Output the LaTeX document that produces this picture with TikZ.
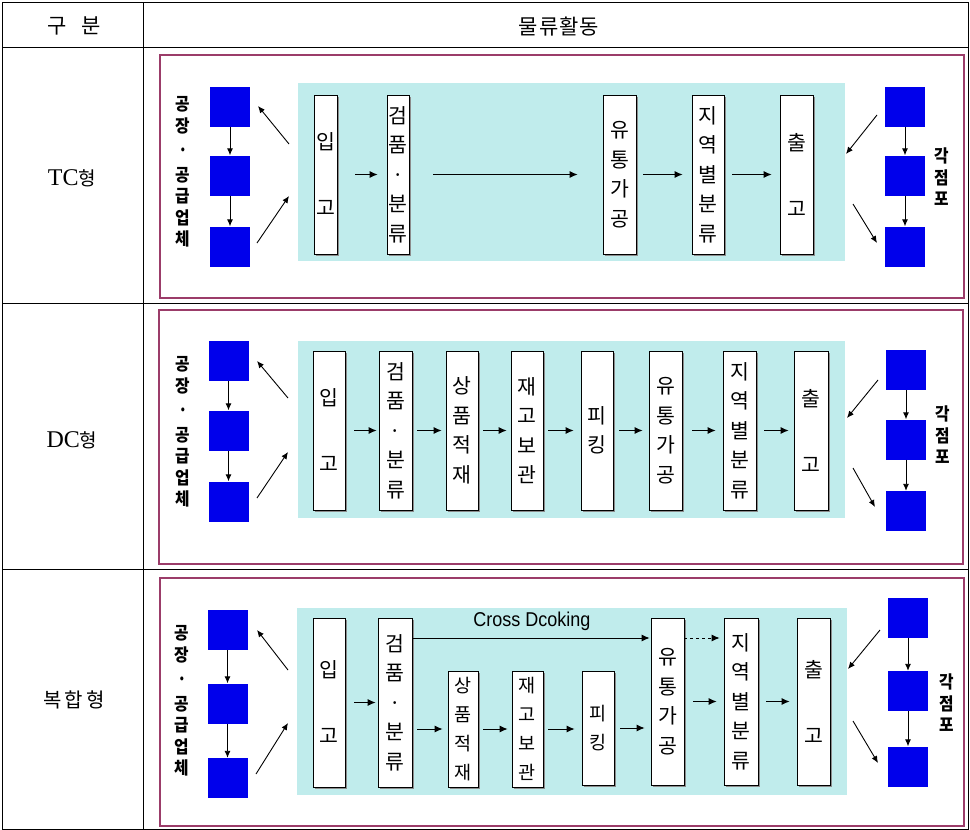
\documentclass[tikz,border=0pt]{standalone}
\usepackage{fontspec}
\setmainfont{Liberation Serif}
\newfontfamily\kr{Noto Sans CJK KR}
\newfontfamily\krb{Noto Sans CJK KR}[FakeStretch=0.9]
\newfontfamily\lsans{Liberation Sans}[FakeStretch=0.9]
\usetikzlibrary{arrows.meta,shadows}
\definecolor{sqblue}{RGB}{0,0,235}
\definecolor{cyanbg}{RGB}{192,236,236}
\definecolor{framecol}{RGB}{155,60,105}
\begin{document}
\begin{tikzpicture}[x=1pt,y=-1pt,
 pbox/.style={draw=black, line width=0.8pt, fill=white, inner sep=0pt, align=center,
   font=\kr\fontsize{20.5}{29.5}\selectfont,
   drop shadow={shadow xshift=1.5pt, shadow yshift=-1.5pt, fill=black!45, opacity=1}},
 sbox/.style={pbox, font=\kr\fontsize{18.5}{29}\selectfont},
 bsq/.style={fill=sqblue, minimum width=40pt, minimum height=40pt, inner sep=0pt},
 flow/.style={-{Latex[length=8pt,width=7pt]}, line width=0.9pt},
 thinarr/.style={-{Latex[length=7pt,width=6pt]}, line width=0.9pt},
 vlabel/.style={font=\krb\bfseries\fontsize{17.5}{21.5}\selectfont, align=center, inner sep=0pt},
 frame/.style={draw=framecol, line width=2pt},
 cyanarea/.style={fill=cyanbg, draw=none},
 tline/.style={draw=black, line width=0.8pt},
 hdr/.style={font=\kr\fontsize{21}{21}\selectfont},
 rowlab/.style={font=\fontsize{24}{24}\selectfont}
]
\useasboundingbox (0,0) rectangle (970,830);
\fill[white] (0,0) rectangle (970,830);
% table
\draw[tline] (2,2) rectangle (968,829);
\draw[tline] (2,47) -- (968,47);
\draw[tline] (2,303) -- (968,303);
\draw[tline] (2,569) -- (968,569);
\draw[tline] (143,2) -- (143,829);
\node[hdr] (h1) at (74,26) {구\hspace{0.7em}분};
\node[hdr] (h2) at (559,27) {물\hspace{1pt}류\hspace{1pt}활\hspace{1pt}동};
\node[rowlab] (r1) at (72,178) {TC{\kr\fontsize{19}{19}\selectfont 형}};
\node[rowlab] (r2) at (72,440) {DC{\kr\fontsize{19}{19}\selectfont 형}};
\node[font=\kr\fontsize{20}{20}\selectfont] (r3) at (74,700) {복\hspace{3pt}합\hspace{3pt}형};

% frames and cyan areas
\draw[frame] (160,55) rectangle (964,298);
\draw[frame] (159,310) rectangle (963,564);
\draw[frame] (160,578) rectangle (964,826);
\fill[cyanarea] (298,83) rectangle (845,261);
\fill[cyanarea] (298,341) rectangle (845,518);
\fill[cyanarea] (297,608) rectangle (847,795);

%================ TC row
\node[bsq] (tl1) at (230,106.5) {};
\node[bsq] (tl2) at (230,175.5) {};
\node[bsq] (tl3) at (230,246.5) {};
\node[bsq] (tr1) at (905,106.5) {};
\node[bsq] (tr2) at (905,175.5) {};
\node[bsq] (tr3) at (905,246.5) {};
\draw[thinarr] (tl1) -- (tl2);
\draw[thinarr] (tl2) -- (tl3);
\draw[thinarr] (tr1) -- (tr2);
\draw[thinarr] (tr2) -- (tr3);
\node[vlabel] (tlab) at (183,172) {공\\장\\[3pt]·\\[3pt]공\\급\\업\\체};
\node[vlabel] (trlab) at (942,177) {각\\점\\포};
\coordinate (ta1) at (289,144); \coordinate (ta2) at (258,106);
\coordinate (tb1) at (257,243); \coordinate (tb2) at (289,196);
\coordinate (tc1) at (877,115); \coordinate (tc2) at (846,154);
\coordinate (td1) at (853,204); \coordinate (td2) at (877,243);
\draw[thinarr] (ta1) -- (ta2);
\draw[thinarr] (tb1) -- (tb2);
\draw[thinarr] (tc1) -- (tc2);
\draw[thinarr] (td1) -- (td2);

\node[pbox, minimum width=23pt, minimum height=159pt] (t1) at (325.5,174.5) {입\\[36.5pt]고};
\node[pbox, minimum width=22pt, minimum height=159pt] (t2) at (398,174.5) {검\\품\\·\\분\\류};
\node[pbox, minimum width=33pt, minimum height=159pt] (t3) at (619.5,174.5) {유\\통\\가\\공};
\node[pbox, minimum width=32pt, minimum height=159pt] (t4) at (708,174.5) {지\\역\\별\\분\\류};
\node[pbox, minimum width=33pt, minimum height=159pt] (t5) at (796.5,174.5) {출\\[36.5pt]고};
\draw[flow, shorten <=18pt, shorten >=9pt] (t1) -- (t2);
\draw[flow, shorten <=24pt, shorten >=25pt] (t2) -- (t3);
\draw[flow, shorten <=7pt, shorten >=9pt] (t3) -- (t4);
\draw[flow, shorten <=8pt, shorten >=8pt] (t4) -- (t5);

%================ DC row
\node[bsq] (dl1) at (228.5,361) {};
\node[bsq] (dl2) at (228.5,430.5) {};
\node[bsq] (dl3) at (228.5,501.5) {};
\node[bsq] (dr1) at (906,370) {};
\node[bsq] (dr2) at (906,439.5) {};
\node[bsq] (dr3) at (906,511) {};
\draw[thinarr] (dl1) -- (dl2);
\draw[thinarr] (dl2) -- (dl3);
\draw[thinarr] (dr1) -- (dr2);
\draw[thinarr] (dr2) -- (dr3);
\node[vlabel] (dlab) at (183,432) {공\\장\\[3pt]·\\[3pt]공\\급\\업\\체};
\node[vlabel] (drlab) at (943,435) {각\\점\\포};
\coordinate (da1) at (288,398); \coordinate (da2) at (257,361);
\coordinate (db1) at (257,498); \coordinate (db2) at (288,452);
\coordinate (dc1) at (878,380); \coordinate (dc2) at (847,418);
\coordinate (dd1) at (853,468); \coordinate (dd2) at (875,507);
\draw[thinarr] (da1) -- (da2);
\draw[thinarr] (db1) -- (db2);
\draw[thinarr] (dc1) -- (dc2);
\draw[thinarr] (dd1) -- (dd2);

\node[pbox, minimum width=32pt, minimum height=159pt] (d1) at (329,430.5) {입\\[36.5pt]고};
\node[pbox, minimum width=33pt, minimum height=159pt] (d2) at (395.5,430.5) {검\\품\\·\\분\\류};
\node[pbox, minimum width=32pt, minimum height=159pt] (d3) at (462,430.5) {상\\품\\적\\재};
\node[pbox, minimum width=32pt, minimum height=159pt] (d4) at (527,430.5) {재\\고\\보\\관};
\node[pbox, minimum width=32pt, minimum height=159pt] (d5) at (597,430.5) {피\\킹};
\node[pbox, minimum width=33pt, minimum height=159pt] (d6) at (665.5,430.5) {유\\통\\가\\공};
\node[pbox, minimum width=33pt, minimum height=159pt] (d7) at (739.5,430.5) {지\\역\\별\\분\\류};
\node[pbox, minimum width=34pt, minimum height=159pt] (d8) at (811,430.5) {출\\[36.5pt]고};
\draw[flow, shorten <=9pt, shorten >=2pt] (d1) -- (d2);
\draw[flow, shorten <=5pt, shorten >=4pt] (d2) -- (d3);
\draw[flow, shorten <=5pt, shorten >=4pt] (d3) -- (d4);
\draw[flow, shorten <=5pt, shorten >=7pt] (d4) -- (d5);
\draw[flow, shorten <=6pt, shorten >=6pt] (d5) -- (d6);
\draw[flow, shorten <=10pt, shorten >=7pt] (d6) -- (d7);
\draw[flow, shorten <=8pt, shorten >=5pt] (d7) -- (d8);

%================ combined row
\node[bsq] (cl1) at (227.5,630) {};
\node[bsq] (cl2) at (227.5,703.5) {};
\node[bsq] (cl3) at (227.5,778) {};
\node[bsq] (cr1) at (908,618) {};
\node[bsq] (cr2) at (908,691) {};
\node[bsq] (cr3) at (908,766.5) {};
\draw[thinarr] (cl1) -- (cl2);
\draw[thinarr] (cl2) -- (cl3);
\draw[thinarr] (cr1) -- (cr2);
\draw[thinarr] (cr2) -- (cr3);
\node[vlabel] (clab) at (182,701) {공\\장\\[3pt]·\\[3pt]공\\급\\업\\체};
\node[vlabel] (crlab) at (947,703) {각\\점\\포};
\coordinate (ca1) at (288,670); \coordinate (ca2) at (257,630);
\coordinate (cb1) at (256,774); \coordinate (cb2) at (288,723);
\coordinate (cc1) at (880,630); \coordinate (cc2) at (848,669);
\coordinate (cd1) at (853,721); \coordinate (cd2) at (878,763);
\draw[thinarr] (ca1) -- (ca2);
\draw[thinarr] (cb1) -- (cb2);
\draw[thinarr] (cc1) -- (cc2);
\draw[thinarr] (cd1) -- (cd2);

\node[pbox, minimum width=32pt, minimum height=169pt] (c1) at (329,702.5) {입\\[36.5pt]고};
\node[pbox, minimum width=34pt, minimum height=169pt] (c2) at (395,702.5) {검\\품\\·\\분\\류};
\node[sbox, minimum width=30pt, minimum height=116pt] (c3) at (463,729) {상\\품\\적\\재};
\node[sbox, minimum width=31pt, minimum height=116pt] (c4) at (527.5,729) {재\\고\\보\\관};
\node[sbox, minimum width=32pt, minimum height=114pt] (c5) at (598,728) {피\\킹};
\node[pbox, minimum width=33pt, minimum height=167pt] (c6) at (667.5,701.5) {유\\통\\가\\공};
\node[pbox, minimum width=34pt, minimum height=167pt] (c7) at (741,701.5) {지\\역\\별\\분\\류};
\node[pbox, minimum width=33pt, minimum height=167pt] (c8) at (813.5,701.5) {출\\[36.5pt]고};
\coordinate (cy) at (0,638);
\draw[flow, shorten <=9pt, shorten >=2pt] (c1) -- (c2);
\draw[flow, shorten <=5pt, shorten >=5pt] (c2.east |- c3) -- (c3.west);
\draw[flow, shorten <=5pt, shorten >=4pt] (c3) -- (c4);
\draw[flow, shorten <=5pt, shorten >=7pt] (c4.east) -- (c5.west |- c4);
\draw[flow, shorten <=6pt, shorten >=6pt] (c5.east) -- (c6.west |- c5);
\draw[flow, shorten <=9pt, shorten >=7pt] (c6) -- (c7);
\draw[flow, shorten <=8pt, shorten >=7pt] (c7) -- (c8);
\draw[flow, shorten >=1pt] (c2.east |- cy) -- (c6.west |- cy);
\draw[flow, dashed, shorten >=4pt] (c6.east |- cy) -- (c7.west |- cy);
\node[font=\lsans\fontsize{20}{20}\selectfont] (cdl) at (532,621) {Cross Dcoking};
\end{tikzpicture}
\end{document}
